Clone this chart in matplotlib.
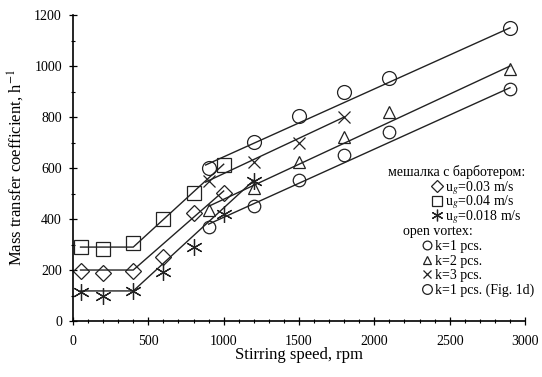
import numpy as np
import matplotlib
matplotlib.use("Agg")
import matplotlib.pyplot as plt
from matplotlib.ticker import MultipleLocator

plt.rcParams['font.family'] = ['Liberation Serif', 'DejaVu Serif']
plt.rcParams['mathtext.fontset'] = 'stix'

# bubbling (мешалка с барботером)
bub_x = [50, 200, 400, 600, 800, 1000]
d003_y = [195, 190, 198, 250, 422, 503]    # ug=0.03 m/s, diamonds
d004_y = [290, 282, 305, 400, 502, 612]    # ug=0.04 m/s, squares
star_x = [50, 200, 400, 600, 800, 1000, 1200]
d0018_y = [112, 100, 118, 192, 290, 420, 550]  # ug=0.018 m/s

# open vortex
k1_x = [900, 1200, 1500, 1800, 2100, 2900]
k1_y = [370, 450, 552, 650, 740, 912]
k2_x = [900, 1200, 1500, 1800, 2100, 2900]
k2_y = [435, 520, 625, 720, 820, 990]
k3_x = [900, 1200, 1500, 1800]
k3_y = [550, 622, 700, 800]
k1d_x = [900, 1200, 1500, 1800, 2100, 2900]
k1d_y = [600, 702, 805, 900, 952, 1150]

# trend lines
sq_lx, sq_ly = [50, 400, 1000], [290, 290, 615]
di_lx, di_ly = [50, 400, 1000], [200, 200, 510]
st_lx, st_ly = [50, 400, 1200], [118, 118, 552]
k1_lx, k1_ly = [900, 2900], [380, 915]
k2_lx, k2_ly = [900, 2900], [450, 1000]
k3_lx, k3_ly = [880, 1800], [545, 800]
k1d_lx, k1d_ly = [880, 2900], [612, 1150]

fig = plt.figure(figsize=(5.42, 3.77), dpi=100)
ax = fig.add_axes([0.1347, 0.1485, 0.834, 0.8115])

lc = '#222222'
for lx, ly in [(sq_lx, sq_ly), (di_lx, di_ly), (st_lx, st_ly), (k1_lx, k1_ly),
               (k2_lx, k2_ly), (k3_lx, k3_ly), (k1d_lx, k1d_ly)]:
    ax.plot(lx, ly, color=lc, lw=1.0)

mk = dict(ls='none', mfc='none', mec=lc, mew=0.9)
h1, = ax.plot(bub_x, d003_y, marker='D', ms=8.5, **mk)
h2, = ax.plot(bub_x, d004_y, marker='s', ms=10, **mk)
h3, = ax.plot(star_x, d0018_y, marker=(6, 2, 0), ms=12, **mk)
h4, = ax.plot(k1_x, k1_y, marker='o', ms=9, **mk)
h5, = ax.plot(k2_x, k2_y, marker='^', ms=9, **mk)
h6, = ax.plot(k3_x, k3_y, marker='x', ms=8, **mk)
h7, = ax.plot(k1d_x, k1d_y, marker='o', ms=10, **mk)

ax.set_xlim(0, 3000)
ax.set_ylim(0, 1200)
ax.xaxis.set_major_locator(MultipleLocator(500))
ax.xaxis.set_minor_locator(MultipleLocator(100))
ax.yaxis.set_major_locator(MultipleLocator(200))
ax.yaxis.set_minor_locator(MultipleLocator(100))
ax.tick_params(which='major', direction='inout', length=6, width=0.9, labelsize=10)
ax.tick_params(which='minor', direction='inout', length=3.5, width=0.8)
ax.tick_params(axis='x', which='major', pad=7)
ax.tick_params(axis='y', which='major', pad=5)
for s in ['top', 'right']:
    ax.spines[s].set_visible(False)
for s in ['left', 'bottom']:
    ax.spines[s].set_linewidth(1.2)

ax.set_xlabel('Stirring speed, rpm', fontsize=12, labelpad=-1)
ax.set_ylabel('Mass transfer coefficient, h$^{-1}$', fontsize=12, labelpad=6)

# legend headers and entries
ax.text(0.697, 0.487, 'мешалка с барботером:', transform=ax.transAxes,
        fontsize=10, va='center', ha='left')
ax.text(0.730, 0.291, 'open vortex:', transform=ax.transAxes,
        fontsize=10, va='center', ha='left')

lkw = dict(loc='upper left', frameon=False, fontsize=10, handlelength=0.6,
           handletextpad=0.3, borderpad=0, borderaxespad=0, markerscale=0.7)
leg1 = ax.legend([h1, h2, h3],
                 ['u$_g$=0.03 m/s', 'u$_g$=0.04 m/s', 'u$_g$=0.018 m/s'],
                 bbox_to_anchor=(0.796, 0.463), labelspacing=-0.25, **lkw)
ax.add_artist(leg1)
leg2 = ax.legend([h4, h5, h6, h7],
                 ['k=1 pcs.', 'k=2 pcs.', 'k=3 pcs.', 'k=1 pcs. (Fig. 1d)'],
                 bbox_to_anchor=(0.774, 0.265), labelspacing=0.12, **lkw)

fig.savefig('out.png', dpi=100)
